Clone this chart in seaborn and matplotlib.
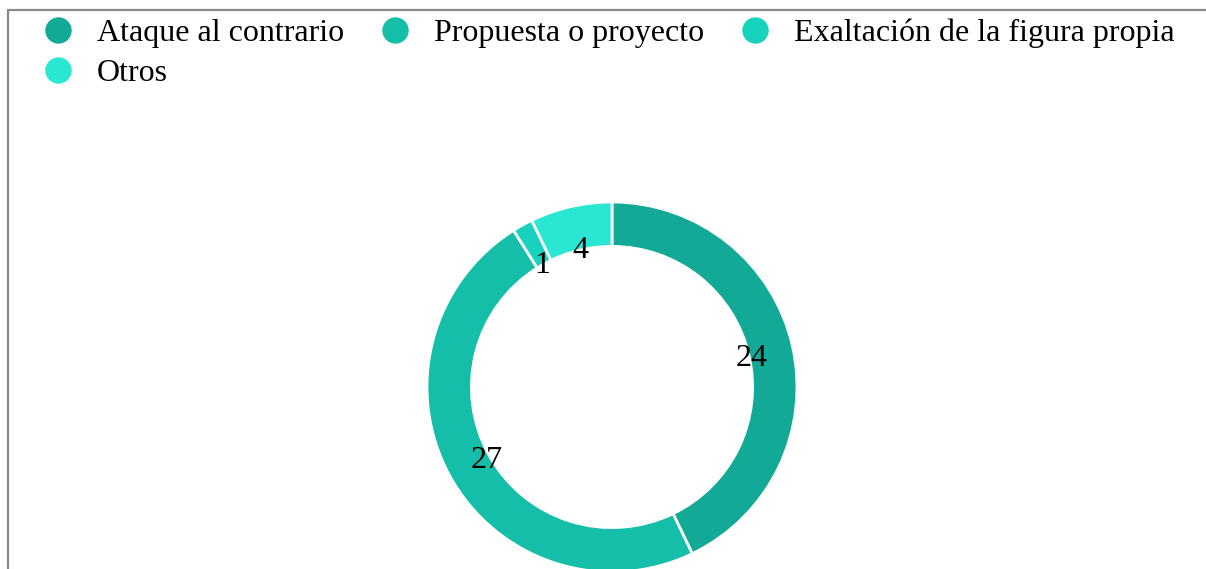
"""
Donut chart: tipo de mensaje
"""

import matplotlib
matplotlib.use('Agg')
import matplotlib.pyplot as plt
from matplotlib.lines import Line2D
from matplotlib.patches import Rectangle
import seaborn as sns


# =============================================================================
# DATA
# =============================================================================

CATEGORIES = ['Ataque al contrario', 'Propuesta o proyecto',
              'Exaltación de la figura propia', 'Otros']
VALUES = [24, 27, 1, 4]
COLORS = ['#13a997', '#14bea9', '#17d3bd', '#29e7d2']


# =============================================================================
# PLOT
# =============================================================================

sns.set_theme(style='white')
plt.rcParams['font.family'] = ['Liberation Serif', 'DejaVu Serif']
plt.rcParams['text.color'] = 'black'

W, H = 1206, 569
fig = plt.figure(figsize=(W / 100, H / 100), dpi=100)
fig.patch.set_facecolor('white')

# square axes centred on the donut (pixel geometry of the reference)
cx, cy, r = 612, 387, 185
ax = fig.add_axes([(cx - r) / W, (H - cy - r) / H, 2 * r / W, 2 * r / H])

palette = sns.color_palette(COLORS)
total = sum(VALUES)
wedges, _, autotexts = ax.pie(
    VALUES,
    colors=palette,
    startangle=90,
    counterclock=False,
    autopct=lambda p: f'{round(p * total / 100)}',
    pctdistance=0.775,
    wedgeprops={'width': 0.24, 'edgecolor': 'white', 'linewidth': 2.0},
    textprops={'fontsize': 23, 'color': 'black'},
)
for t in autotexts:
    t.set_y(t.get_position()[1] - 0.02)
ax.set_xlim(-1, 1)
ax.set_ylim(-1, 1)
ax.set_aspect('equal')
ax.axis('off')

# legend, row-major order (matplotlib fills columns first)
handles = [Line2D([], [], linestyle='none', marker='o', markersize=20,
                  markerfacecolor=c, markeredgecolor='white',
                  markeredgewidth=1.0) for c in palette]
order = [0, 3, 1, 2]
leg = fig.legend([handles[i] for i in order], [CATEGORIES[i] for i in order],
                 ncol=3, loc='upper left',
                 bbox_to_anchor=(42 / W, 1 - 19 / H),
                 frameon=False, fontsize=23,
                 handlelength=1.0, handletextpad=0.72,
                 columnspacing=1.1, labelspacing=0.32,
                 borderpad=0, borderaxespad=0)
for t in leg.get_texts():
    t.set_color('black')

# grey frame (top and left edges visible)
fig.add_artist(Rectangle((8 / W, -0.05), 1.2, 1 - 10 / H + 0.05,
                         transform=fig.transFigure, fill=False,
                         edgecolor='#888888', linewidth=1.6))

plt.savefig('out.png', dpi=100, facecolor='white')
plt.close()
